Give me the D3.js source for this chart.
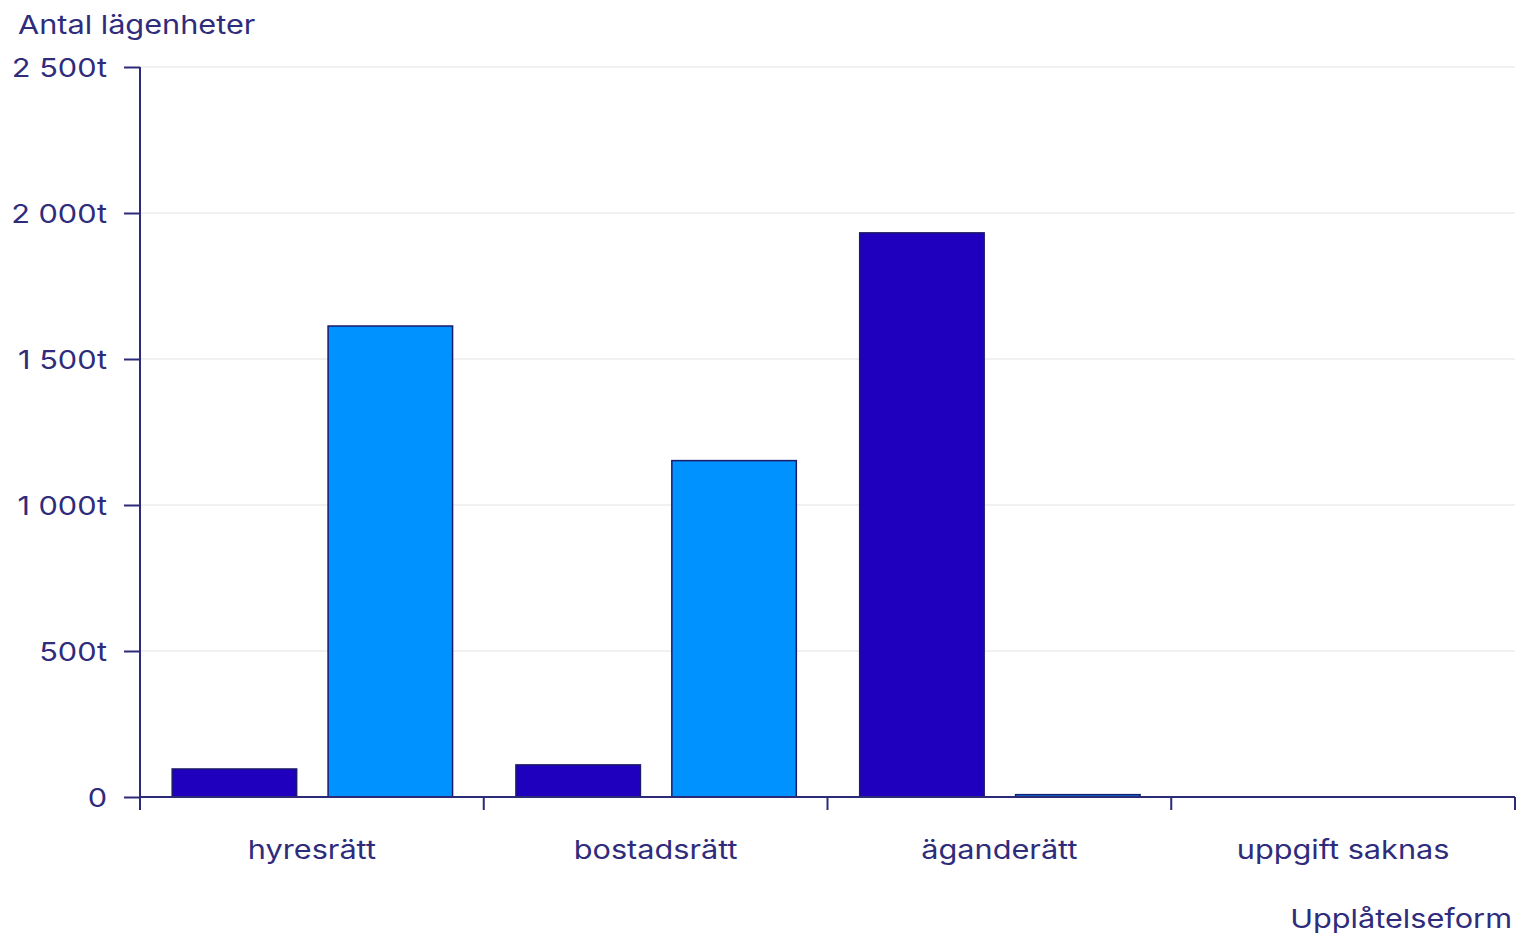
<!DOCTYPE html>
<html><head><meta charset="utf-8">
<script src="https://cdn.jsdelivr.net/npm/d3@7"></script>
<style>body{margin:0;background:#fff;} svg{display:block;font-family:Inter,"Noto Sans",sans-serif;}</style>
</head><body><svg id="c" width="1517" height="937"></svg>
<script>
const categories = ["hyresrätt", "bostadsrätt", "äganderätt", "uppgift saknas"];
const series1 = [96, 110, 1932, 0];
const series2 = [1613, 1152, 8, 0];
const yTicks = [0, 500, 1000, 1500, 2000, 2500];
const yTickLabels = ["0", "500t", "1 000t", "1 500t", "2 000t", "2 500t"];
const yTitle = "Antal lägenheter";
const xTitle = "Upplåtelseform";

const textCol = "#2f2c7c", axisCol = "#2d2a78";
const colors = ["#1e00be", "#0092ff"];
const FS = 26, SX = 1.18;
const svg = d3.select("#c");
const m = {l: 140, r: 1515, t: 67, b: 797};
const x = d3.scaleBand().domain(categories).range([m.l, m.r]).paddingInner(0).paddingOuter(0);
const xs = d3.scaleBand().domain([0, 1]).range([0, x.bandwidth()]).paddingInner(0.195).paddingOuter(0.2);
const y = d3.scaleLinear().domain([0, 2500]).range([m.b, m.t]);

function label(parent, tx, ty, txt, anchor) {
  return parent.append("text")
    .attr("transform", `translate(${tx},${ty}) scale(${SX},1)`)
    .attr("text-anchor", anchor).attr("fill", textCol).attr("font-size", FS).text(txt);
}

// grid
svg.append("g").selectAll("line").data(yTicks.filter(d => d > 0)).join("line")
  .attr("x1", m.l).attr("x2", m.r).attr("y1", d => y(d)).attr("y2", d => y(d))
  .attr("stroke", "#e3e3e3").attr("stroke-width", 1);

// bars
const data = categories.map((c, i) => ({c, v: [series1[i], series2[i]]}));
const g = svg.append("g");
data.forEach(d => {
  d.v.forEach((v, j) => {
    if (v <= 0) return;
    g.append("rect")
      .attr("x", x(d.c) + xs(j) + 1).attr("width", xs.bandwidth() - 1)
      .attr("y", y(v)).attr("height", y(0) - y(v))
      .attr("fill", colors[j]).attr("stroke", "#1c1a6a").attr("stroke-width", 1.5);
  });
});

// y axis
const ya = svg.append("g").attr("transform", `translate(${m.l},0)`)
  .call(d3.axisLeft(y).tickValues(yTicks).tickFormat((d, i) => yTickLabels[i]).tickSize(16).tickPadding(16));
ya.select(".domain").remove();
ya.append("line").attr("x1", 0).attr("x2", 0).attr("y1", m.t).attr("y2", m.b + 13).attr("stroke", axisCol).attr("stroke-width", 2);
ya.selectAll(".tick line").attr("stroke", axisCol).attr("stroke-width", 2);
ya.selectAll(".tick text").attr("fill", textCol).attr("font-size", FS).attr("font-family", "Inter, sans-serif")
  .attr("x", 0).attr("transform", `translate(-33,1) scale(${SX},1)`);

// x axis
const xa = svg.append("g").attr("transform", `translate(0,${m.b})`);
xa.append("line").attr("x1", m.l).attr("x2", m.r).attr("stroke", axisCol).attr("stroke-width", 2);
const edges = categories.map(c => x(c)).concat([m.r]);
xa.selectAll("line.t").data(edges.slice(1)).join("line").attr("class", "t")
  .attr("x1", d => d).attr("x2", d => d).attr("y1", 0).attr("y2", 13)
  .attr("stroke", axisCol).attr("stroke-width", 2);
categories.forEach(c => label(xa, x(c) + x.bandwidth() / 2, 62, c, "middle"));

// titles
label(svg, 18, 34, yTitle, "start");
label(svg, 1512, 928, xTitle, "end");
</script></body></html>
